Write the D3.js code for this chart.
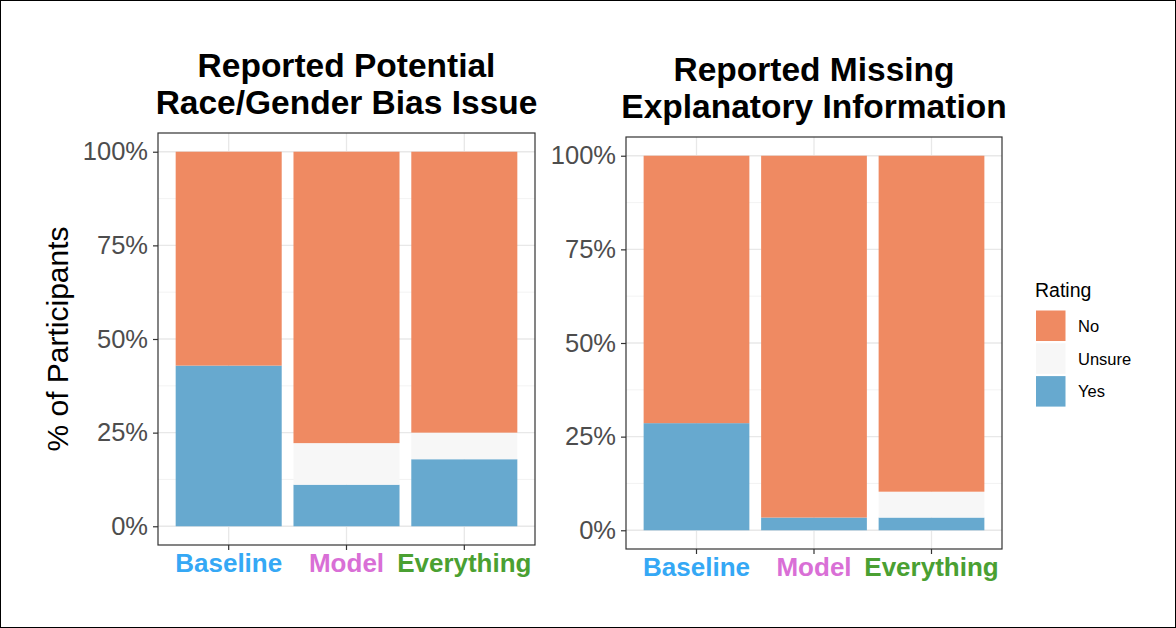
<!DOCTYPE html>
<html>
<head>
<meta charset="utf-8">
<script src="https://cdn.jsdelivr.net/npm/d3@7"></script>
<style>
  html, body { margin: 0; padding: 0; background: #fff; }
  svg { display: block; font-family: "Liberation Sans", Arial, Helvetica, sans-serif; }
</style>
</head>
<body>
<svg id="chart" width="1176" height="628"></svg>
<script>
// ---- data ----
const categories = ["Baseline", "Model", "Everything"];
const ratings = ["No", "Unsure", "Yes"];
const yTicks = [0, 25, 50, 75, 100];

// Panel 1: Reported Potential Race/Gender Bias Issue (% of participants)
const biasYes    = [42.9, 11.1, 17.9];
const biasUnsure = [0.0, 11.1, 7.1];
const biasNo     = [57.1, 77.8, 75.0];

// Panel 2: Reported Missing Explanatory Information (% of participants)
const missingYes    = [28.6, 3.4, 3.4];
const missingUnsure = [0.0, 0.0, 6.9];
const missingNo     = [71.4, 96.6, 89.7];

const titles = [
  ["Reported Potential", "Race/Gender Bias Issue"],
  ["Reported Missing", "Explanatory Information"]
];

// ---- styles ----
const ratingColor = { No: "#ef8a62", Unsure: "#f7f7f7", Yes: "#67a9cf" };
const catColor = { Baseline: "#35a8f5", Model: "#d96fd6", Everything: "#4aa032" };
const FONT = '"Liberation Sans", Arial, Helvetica, sans-serif';

const svg = d3.select("#chart");

// outer frame
svg.append("rect").attr("x", 0).attr("y", 0).attr("width", 1176).attr("height", 628)
  .attr("fill", "#fff").attr("stroke", "#000").attr("stroke-width", 2);

function buildRows(yes, unsure, no) {
  return categories.map((c, i) => ({ cat: c, Yes: yes[i], Unsure: unsure[i], No: no[i] }));
}

const panels = [
  { rows: buildRows(biasYes, biasUnsure, biasNo), x0: 158, x1: 535, y0: 133, y1: 545, title: titles[0], ylab: true },
  { rows: buildRows(missingYes, missingUnsure, missingNo), x0: 626, x1: 1002, y0: 137, y1: 549, title: titles[1], ylab: false }
];

panels.forEach(p => {
  const g = svg.append("g");
  const h = p.y1 - p.y0;
  // ggplot-like 5% expansion
  const y = d3.scaleLinear().domain([-5, 105]).range([p.y1, p.y0]);
  const x = d3.scaleBand().domain(categories).range([p.x0, p.x1])
    .paddingInner(0.1).paddingOuter(0.15);

  // panel background
  g.append("rect").attr("x", p.x0).attr("y", p.y0).attr("width", p.x1 - p.x0).attr("height", h)
    .attr("fill", "#fff");

  // minor grid
  const minor = [12.5, 37.5, 62.5, 87.5];
  g.selectAll(".minor").data(minor).join("line")
    .attr("x1", p.x0).attr("x2", p.x1)
    .attr("y1", d => y(d)).attr("y2", d => y(d))
    .attr("stroke", "#f0f0f0").attr("stroke-width", 0.8);
  // major grid
  g.selectAll(".majorY").data(yTicks).join("line")
    .attr("x1", p.x0).attr("x2", p.x1)
    .attr("y1", d => y(d)).attr("y2", d => y(d))
    .attr("stroke", "#e8e8e8").attr("stroke-width", 1.3);
  g.selectAll(".majorX").data(categories).join("line")
    .attr("x1", d => x(d) + x.bandwidth() / 2).attr("x2", d => x(d) + x.bandwidth() / 2)
    .attr("y1", p.y0).attr("y2", p.y1)
    .attr("stroke", "#e8e8e8").attr("stroke-width", 1.3);

  // stacked bars: Yes bottom, Unsure middle, No top
  const stack = d3.stack().keys(["Yes", "Unsure", "No"]);
  const series = stack(p.rows);
  series.forEach(s => {
    g.selectAll(null).data(s).join("rect")
      .attr("x", d => x(d.data.cat))
      .attr("width", x.bandwidth())
      .attr("y", d => y(d[1]))
      .attr("height", d => Math.max(0, y(d[0]) - y(d[1])))
      .attr("fill", ratingColor[s.key]);
  });

  // panel border
  g.append("rect").attr("x", p.x0).attr("y", p.y0).attr("width", p.x1 - p.x0).attr("height", h)
    .attr("fill", "none").attr("stroke", "#333").attr("stroke-width", 1.2);

  // y axis
  const ya = g.append("g").attr("transform", `translate(${p.x0},0)`)
    .call(d3.axisLeft(y).tickValues(yTicks).tickFormat(d => d + "%").tickSize(5).tickPadding(5));
  ya.select(".domain").remove();
  ya.selectAll(".tick line").attr("stroke", "#333").attr("stroke-width", 1.2);
  ya.selectAll(".tick text").attr("fill", "#4d4d4d").style("font-family", FONT).style("font-size", "25.5px");

  // x axis
  const xa = g.append("g").attr("transform", `translate(0,${p.y1})`)
    .call(d3.axisBottom(x).tickSize(5).tickPadding(4));
  xa.select(".domain").remove();
  xa.selectAll(".tick line").attr("stroke", "#333").attr("stroke-width", 1.2);
  xa.selectAll(".tick text").attr("fill", d => catColor[d]).style("font-family", FONT)
    .style("font-size", "26px").style("font-weight", "bold");

  // title
  const cx = (p.x0 + p.x1) / 2;
  g.append("text").attr("x", cx).attr("y", p.y0 - 56).attr("text-anchor", "middle")
    .style("font-size", "33.5px").style("font-weight", "bold").attr("fill", "#000").text(p.title[0]);
  g.append("text").attr("x", cx).attr("y", p.y0 - 19).attr("text-anchor", "middle")
    .style("font-size", "33.5px").style("font-weight", "bold").attr("fill", "#000").text(p.title[1]);

  if (p.ylab) {
    g.append("text")
      .attr("transform", `translate(68,${(p.y0 + p.y1) / 2}) rotate(-90)`)
      .attr("text-anchor", "middle")
      .style("font-size", "30px").attr("fill", "#000").text("% of Participants");
  }
});

// legend
const lg = svg.append("g");
lg.append("text").attr("x", 1035).attr("y", 297).style("font-size", "19.5px").attr("fill", "#000").text("Rating");
ratings.forEach((r, i) => {
  const ky = 310.5 + i * 32.8;
  lg.append("rect").attr("x", 1036).attr("y", ky).attr("width", 29.5).attr("height", 30.5)
    .attr("fill", ratingColor[r]);
  lg.append("text").attr("x", 1078).attr("y", ky + 15.5).attr("dy", "0.35em")
    .style("font-size", "16.5px").attr("fill", "#000").text(r);
});
</script>
</body>
</html>
